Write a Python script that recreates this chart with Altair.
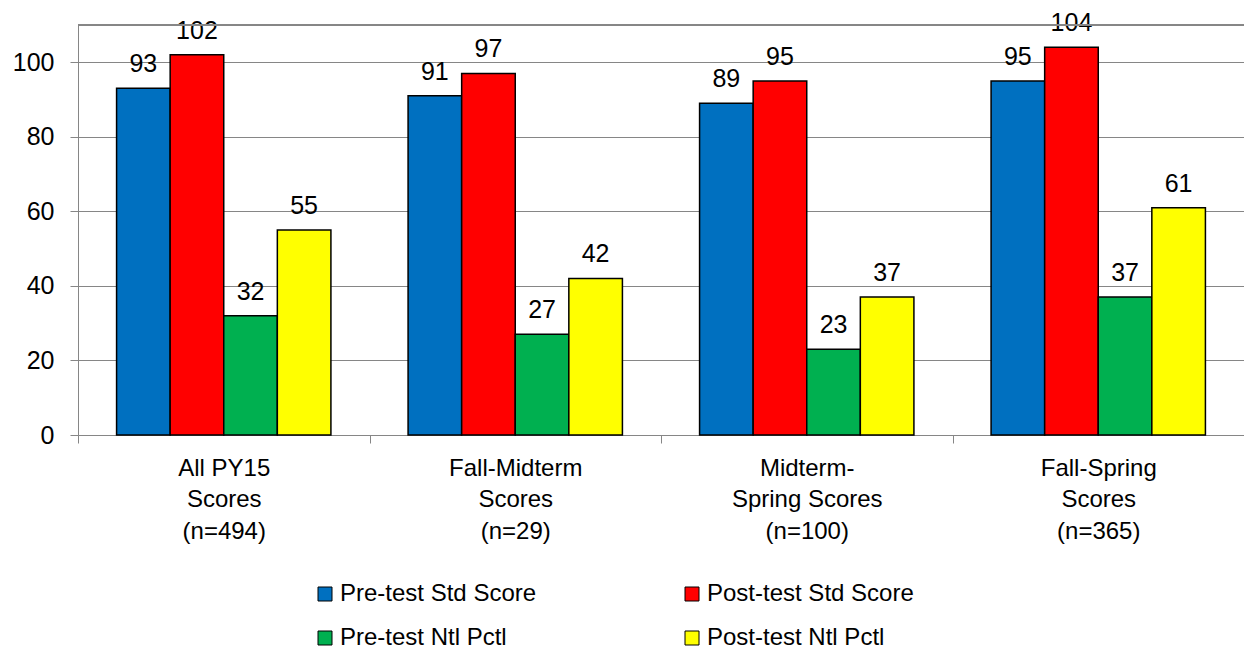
import altair as alt
import pandas as pd

categories = ["All PY15|Scores|(n=494)", "Fall-Midterm|Scores|(n=29)",
              "Midterm-|Spring Scores|(n=100)", "Fall-Spring|Scores|(n=365)"]
series = ["Pre-test Std Score", "Post-test Std Score", "Pre-test Ntl Pctl", "Post-test Ntl Pctl"]
pre_std = [93, 91, 89, 95]
post_std = [102, 97, 95, 104]
pre_pctl = [32, 27, 23, 37]
post_pctl = [55, 42, 37, 61]
colors = ["#0070C0", "#FF0000", "#00B050", "#FFFF00"]
y_ticks = [0, 20, 40, 60, 80, 100]

rows = []
for s, vals in zip(series, [pre_std, post_std, pre_pctl, post_pctl]):
    for c, v in zip(categories, vals):
        rows.append({"category": c, "series": s, "value": v})
df = pd.DataFrame(rows)

W, H = 1166, 410
FONT = "Liberation Sans"
GRID = "#868686"

x_enc = alt.X("category:N", sort=categories,
              scale=alt.Scale(paddingInner=0, paddingOuter=0),
              axis=alt.Axis(title=None, labelAngle=0, labelExpr="split(datum.label, '|')",
                            tickBand="extent", tickSize=8, tickColor=GRID, domainColor=GRID,
                            labelFontSize=24, labelLineHeight=31.5, labelPadding=13,
                            labelColor="black", labelFont=FONT, grid=False))
xoff_enc = alt.XOffset("series:N", sort=series,
                       scale=alt.Scale(paddingOuter=0.72, paddingInner=0))
y_enc = alt.Y("value:Q", scale=alt.Scale(domain=[0, 110], nice=False),
              axis=alt.Axis(title=None, values=y_ticks, tickSize=8, tickColor=GRID,
                            domainColor=GRID, gridColor=GRID, gridOpacity=1,
                            labelFontSize=25, labelPadding=16, labelColor="black",
                            labelFont=FONT))

base = alt.Chart(df).encode(x=x_enc, xOffset=xoff_enc, y=y_enc)

bars = base.mark_bar(stroke="black", strokeWidth=1.5).encode(
    color=alt.Color("series:N", sort=series,
                    scale=alt.Scale(domain=series, range=colors),
                    legend=alt.Legend(title=None, orient="none", legendX=235, legendY=557,
                                      direction="horizontal",
                                      columns=2, columnPadding=143, rowPadding=20,
                                      gridAlign="each",
                                      symbolType="square", symbolSize=196,
                                      symbolStrokeColor="black", symbolStrokeWidth=1,
                                      symbolOpacity=1, labelFontSize=24, labelFont=FONT,
                                      labelColor="black", labelOffset=3, labelLimit=400,
                                      padding=0)))

labels = base.mark_text(dy=-16, baseline="alphabetic", fontSize=25, font=FONT,
                        color="black").encode(text="value:Q")

top = alt.Chart(df).mark_rule(color=GRID, strokeWidth=1).encode(
    y=alt.value(0), x=alt.value(0), x2=alt.value(W))

chart = alt.layer(bars, labels, top).properties(
    width=W, height=H,
    autosize=alt.AutoSizeParams(type="none"),
    padding={"left": 70, "top": 17, "right": 0, "bottom": 217},
).configure_view(stroke=None)

chart.save("out.html", embed_options={"renderer": "svg", "actions": False})
